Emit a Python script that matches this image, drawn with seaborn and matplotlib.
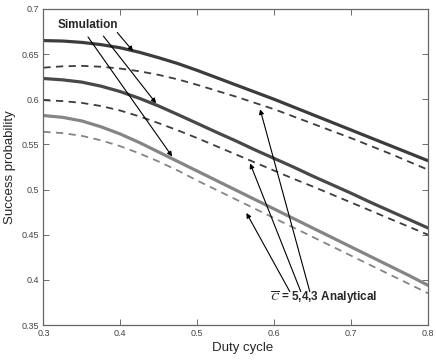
import numpy as np
import pandas as pd
import matplotlib
matplotlib.use("Agg")
import matplotlib.pyplot as plt
import seaborn as sns

# ---- data ----
duty = [0.300, 0.325, 0.350, 0.375, 0.400, 0.425, 0.450, 0.475, 0.500, 0.525, 0.550,
        0.575, 0.600, 0.625, 0.650, 0.675, 0.700, 0.725, 0.750, 0.775, 0.800]
sim_c5 = [0.665, 0.6645, 0.663, 0.6605, 0.657, 0.652, 0.646, 0.6395, 0.632, 0.624, 0.616,
          0.608, 0.600, 0.5915, 0.583, 0.5745, 0.566, 0.5575, 0.549, 0.5405, 0.532]
ana_c5 = [0.635, 0.6365, 0.637, 0.636, 0.634, 0.631, 0.627, 0.622, 0.616, 0.6095, 0.603,
          0.596, 0.589, 0.581, 0.573, 0.565, 0.557, 0.5485, 0.540, 0.531, 0.522]
sim_c4 = [0.623, 0.6215, 0.619, 0.6145, 0.6085, 0.601, 0.5925, 0.583, 0.5733, 0.5635, 0.554,
          0.544, 0.5345, 0.525, 0.515, 0.5055, 0.496, 0.486, 0.4765, 0.467, 0.4575]
ana_c4 = [0.599, 0.598, 0.596, 0.5925, 0.5875, 0.581, 0.5735, 0.5655, 0.557, 0.548, 0.539,
          0.530, 0.521, 0.512, 0.5035, 0.4946, 0.4857, 0.4768, 0.4678, 0.4589, 0.450]
sim_c3 = [0.582, 0.580, 0.576, 0.5695, 0.5615, 0.552, 0.5415, 0.531, 0.5205, 0.510, 0.4995,
          0.489, 0.4785, 0.468, 0.4575, 0.447, 0.4365, 0.426, 0.4155, 0.405, 0.394]
ana_c3 = [0.564, 0.5625, 0.5595, 0.5545, 0.548, 0.540, 0.531, 0.521, 0.510, 0.4996, 0.4892,
          0.4788, 0.4684, 0.458, 0.4476, 0.4372, 0.4268, 0.4164, 0.406, 0.3956, 0.3852]

x_ticks = [0.3, 0.4, 0.5, 0.6, 0.7, 0.8]
y_ticks = [0.35, 0.4, 0.45, 0.5, 0.55, 0.6, 0.65, 0.7]

sns.set_style("ticks")
plt.rcParams['font.family'] = ['Liberation Sans', 'DejaVu Sans']
plt.rcParams['mathtext.fontset'] = 'stix'

fig = plt.figure(figsize=(4.36, 3.62), dpi=100)
ax = fig.add_axes([0.0995, 0.1022, 0.882, 0.873])

series = [
    (sim_c5, "#3c3c3c", "-", 2.3),
    (ana_c5, "#3c3c3c", "--", 1.3),
    (sim_c4, "#484848", "-", 2.3),
    (ana_c4, "#3c3c3c", "--", 1.3),
    (sim_c3, "#858585", "-", 2.3),
    (ana_c3, "#858585", "--", 1.3),
]
for vals, col, ls, lw in series:
    df = pd.DataFrame({"duty": duty, "p": vals})
    sns.lineplot(data=df, x="duty", y="p", ax=ax, color=col, linewidth=lw)
    line = ax.get_lines()[-1]
    if ls == "--":
        line.set_dashes((4, 3))

ax.set_xlim(0.3, 0.8)
ax.set_ylim(0.35, 0.7)
ax.set_xticks(x_ticks)
ax.set_xticklabels([f"{t:g}" for t in x_ticks])
ax.set_yticks(y_ticks)
ax.set_yticklabels([f"{t:g}" for t in y_ticks])
ax.tick_params(direction="in", length=4, width=0.6, labelsize=6.5,
               labelcolor="#444444", color="#555555", top=True, right=True, pad=3)
for s in ax.spines.values():
    s.set_visible(True)
    s.set_color("#666666")
    s.set_linewidth(0.9)

ax.set_xlabel("Duty cycle", fontsize=9.5)
ax.set_ylabel("Success probability", fontsize=9.5)
ax.xaxis.set_label_coords(0.518, -0.055)
ax.yaxis.set_label_coords(-0.072, 0.5)

# annotations
ax.text(0.358, 0.682, "Simulation", fontsize=8.5, fontweight="bold",
        ha="center", va="center")
arrow_kw = dict(arrowstyle="-|>", color="black", lw=0.8, mutation_scale=7,
                shrinkA=0, shrinkB=0)
for (tx, ty), (hx, hy) in [((0.396, 0.674), (0.4166, 0.6533)),
                           ((0.378, 0.670), (0.4465, 0.5956)),
                           ((0.358, 0.669), (0.4674, 0.5367))]:
    ax.annotate("", xy=(hx, hy), xytext=(tx, ty), arrowprops=arrow_kw)

ax.text(0.665, 0.380, r"$\overline{C}$ = 5,4,3 Analytical", fontsize=8.5,
        fontweight="bold", ha="center", va="center")
for (tx, ty), (hx, hy) in [((0.6204, 0.387), (0.564, 0.4741)),
                           ((0.6347, 0.387), (0.5688, 0.5289)),
                           ((0.6464, 0.387), (0.5818, 0.5889))]:
    ax.annotate("", xy=(hx, hy), xytext=(tx, ty), arrowprops=arrow_kw)

fig.savefig("out.png", dpi=100)
